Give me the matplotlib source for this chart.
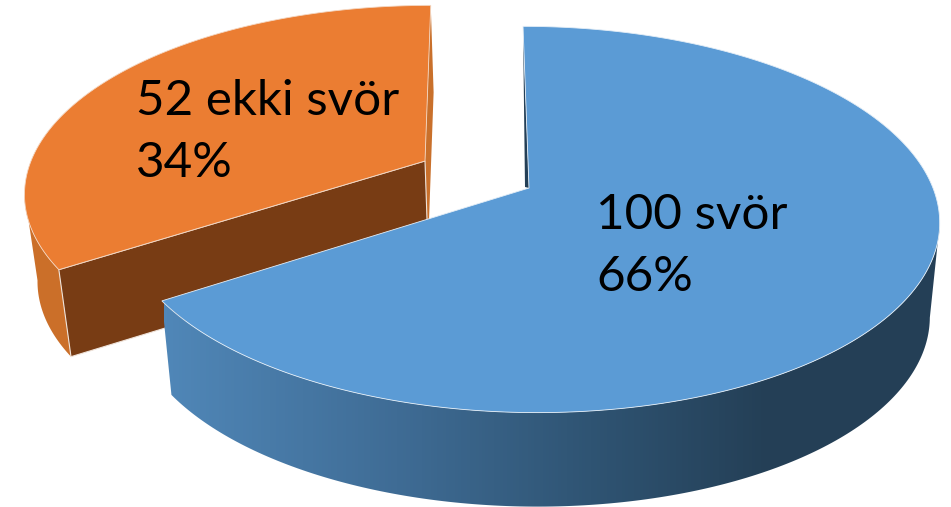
import numpy as np
import matplotlib
matplotlib.use("Agg")
import matplotlib.pyplot as plt
from matplotlib.colors import LinearSegmentedColormap
from matplotlib.patches import Polygon

values = [100, 52]
names = ["svör", "ekki svör"]
top_colors = ["#5B9BD5", "#EB7D32"]

plt.rcParams['font.family'] = ['Lato', 'DejaVu Sans']
fig = plt.figure(figsize=(9.51, 5.07), dpi=100)
ax = fig.add_axes([0, 0, 1, 1])
W, H = 951, 507


def project(theta, r, s):
    # circle angle (clockwise from top) -> picture, with perspective
    X = r * np.sin(theta)
    Y = -r * np.cos(theta)
    d = 1 - s['k'] * Y
    u = s['A'] * X / d
    v = s['B'] * Y / d
    x = s['x0'] + u + s['lean'] * v
    y = s['y0'] + v
    # bottom rim: pulled in a little and pushed down
    xb = s['xc'] + (x - s['xc']) * 0.975
    yb = y + s['depth']
    return x, y, xb, yb


def add_poly(xs, ys, color, edge=None, lw=0, z=1):
    p = Polygon(np.column_stack([xs, ys]), closed=True, facecolor=color,
                edgecolor=edge if edge else 'none', linewidth=lw, zorder=z)
    ax.add_patch(p)
    return p


frac = np.array(values) / sum(values)
a0 = frac[0] * 2 * np.pi

blue = dict(x0=529, y0=188, A=404, B=188, k=0.163, lean=0.037, xc=545, depth=94)
orange = dict(x0=425, y0=161, A=394, B=181, k=0.163, lean=-0.037, xc=545, depth=87)

# orange slice
t = np.linspace(a0, 2 * np.pi, 150)
x, y, xb, yb = project(t, 1, orange)
cx, cy, cxb, cyb = project(0.0, 0, orange)
# outer wall only from the tip to the left extreme, the rest is behind the top
i = np.argmin(x)
add_poly(np.r_[x[:i + 1], xb[:i + 1][::-1]], np.r_[y[:i + 1], yb[:i + 1][::-1]], '#CB6F29', z=1)
add_poly([x[-1], xb[-1], cxb, cx], [y[-1], yb[-1], cyb, cy], '#C9702B', z=1)
add_poly([x[0], cx, cxb, xb[0]], [y[0], cy, cyb, yb[0]], '#783C14', edge='#EFE3DA', lw=0.8, z=2)
add_poly(np.r_[cx, x], np.r_[cy, y], top_colors[1], edge='#F4D8C4', lw=0.6, z=3)

# blue slice, wall has a gradient from left to right
t = np.linspace(0, a0, 300)
x, y, xb, yb = project(t, 1, blue)
cx, cy, cxb, cyb = project(0.0, 0, blue)
grad = LinearSegmentedColormap.from_list(
    'b', [(0, '#5087B8'), (0.3, '#3F6C95'), (0.55, '#2F5473'), (0.78, '#243F56'), (1, '#243F56')])
i = np.argmax(x)
wall_poly = add_poly(np.r_[x[i:], xb[i:][::-1]], np.r_[y[i:], yb[i:][::-1]], 'none', z=4)
img = ax.imshow(np.linspace(0, 1, 256).reshape(1, -1), cmap=grad, aspect='auto',
                extent=[164, 940, 507, 0], zorder=4)
img.set_clip_path(wall_poly)
add_poly([x[0], cx, cx - 4], [y[0], cy, cy - 1], '#243F56', z=5)
add_poly(np.r_[cx, x], np.r_[cy, y], top_colors[0], edge='#E4EEF7', lw=0.6, z=6)

# labels
pct = np.round(frac * 100).astype(int)
ax.text(596, 246, f"{values[0]} {names[0]}\n{pct[0]}%", fontsize=35.6, color='black',
        va='center', ha='left', linespacing=1.48, zorder=10)
ax.text(136, 132, f"{values[1]} {names[1]}\n{pct[1]}%", fontsize=35.6, color='black',
        va='center', ha='left', linespacing=1.48, zorder=10)

ax.set_xlim(0, W)
ax.set_ylim(H, 0)
ax.axis('off')
fig.savefig('out.png', dpi=100, facecolor='white')
